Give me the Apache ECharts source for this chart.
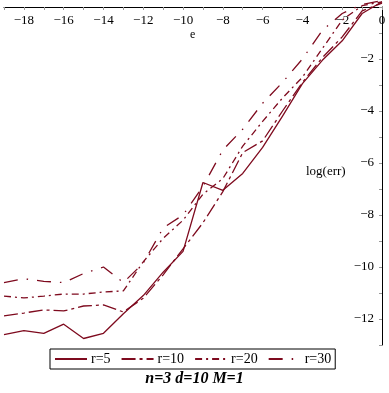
<!DOCTYPE html>
<html>
<head>
<meta charset="utf-8">
<script src="https://cdn.jsdelivr.net/npm/echarts@6/dist/echarts.min.js"></script>
<style>
  html, body { margin: 0; padding: 0; background: #fff; }
  #box { width: 389px; height: 393px; }
</style>
</head>
<body>
<div id="box"></div>
<script>
// log10 of e, one point per integer
var xs = [-19, -18, -17, -16, -15, -14, -13, -12, -11, -10, -9, -8, -7, -6, -5, -4, -3, -2, -1, 0];
var r5 = [-12.6, -12.45, -12.55, -12.2, -12.75, -12.55, -11.8, -11.1, -10.2, -9.4, -6.75, -7.05, -6.4, -5.4, -4.2, -2.95, -2.05, -1.3, -0.25, 0.2];
var r10 = [-11.88, -11.77, -11.65, -11.69, -11.5, -11.46, -11.73, -11.2, -10.3, -9.3, -8.3, -7.1, -5.6, -5.15, -4.0, -2.9, -1.95, -1.15, -0.15, 0.15];
var r20 = [-11.12, -11.19, -11.12, -11.04, -11.04, -10.96, -10.92, -9.8, -8.9, -8.2, -7.2, -6.6, -5.35, -4.4, -3.5, -2.7, -1.6, -0.5, 0.05, 0.2];
var r30 = [-10.6, -10.45, -10.55, -10.6, -10.25, -10.0, -10.6, -9.85, -8.5, -8.0, -6.9, -5.5, -4.7, -3.7, -2.9, -2.0, -0.9, -0.25, 0.1, 0.25];
var names = ['r=5', 'r=10', 'r=20', 'r=30'];

var lineColor = '#7e0a1e';
var serif = 'Liberation Serif';

function pairs(ys) {
  return xs.map(function (x, i) { return [x, ys[i]]; });
}
function minus(v) {
  return String(v).replace('-', '\u2212');
}

var myChart = echarts.init(document.getElementById('box'));

var dashes = ['solid', [14, 4, 3, 4], [7, 4, 2, 4], [14, 9, 1.5, 9]];
var allData = [r5, r10, r20, r30];

var option = {
  animation: false,
  grid: { left: 4, right: 7, top: 7, bottom: 48, containLabel: false },
  title: {
    text: 'n=3 d=10 M=1',
    left: 'center',
    top: 371,
    padding: 0,
    textStyle: { fontFamily: serif, fontStyle: 'italic', fontWeight: 'bold', fontSize: 16, color: '#000' }
  },
  legend: {
    data: names,
    left: 50,
    top: 349,
    orient: 'horizontal',
    itemWidth: 32,
    itemHeight: 10,
    itemGap: 10,
    padding: [3, 4, 3, 4],
    borderColor: '#000',
    borderWidth: 1,
    itemStyle: { opacity: 0 },
    lineStyle: { width: 2 },
    textStyle: { fontFamily: serif, fontSize: 14, color: '#000', padding: [0, 0, 0, -1] }
  },
  graphic: [
    { type: 'text', left: 190, top: 29, style: { text: 'e', font: '12px "Liberation Serif"', fill: '#000' } },
    { type: 'text', left: 306, top: 165, style: { text: 'log(err)', font: '13px "Liberation Serif"', fill: '#000' } }
  ],
  xAxis: {
    type: 'value',
    position: 'top',
    min: -19,
    max: 0,
    interval: 1,
    axisLine: { show: true, onZero: false, lineStyle: { color: '#000', width: 1 } },
    axisTick: { show: true, inside: true, length: 3, lineStyle: { color: '#999' } },
    axisLabel: {
      inside: true,
      margin: 7,
      fontFamily: serif,
      fontSize: 13,
      color: '#000',
      formatter: function (v) { return v % 2 === 0 ? minus(v) : ''; }
    },
    splitLine: { show: false }
  },
  yAxis: {
    type: 'value',
    position: 'right',
    min: -13,
    max: 0,
    interval: 1,
    axisLine: { show: true, onZero: false, lineStyle: { color: '#000', width: 1 } },
    axisTick: { show: true, inside: true, length: 3, lineStyle: { color: '#999' } },
    axisLabel: {
      inside: true,
      margin: 8,
      fontFamily: serif,
      fontSize: 13,
      color: '#000',
      formatter: function (v) { return (v % 2 === 0 && v !== 0) ? minus(v) : ''; }
    },
    splitLine: { show: false }
  },
  series: names.map(function (n, i) {
    return {
      name: n,
      type: 'line',
      data: pairs(allData[i]),
      symbol: 'none',
      clip: false,
      itemStyle: { color: lineColor },
      lineStyle: { color: lineColor, width: 1.3, type: dashes[i] }
    };
  })
};

myChart.setOption(option);
</script>
</body>
</html>
